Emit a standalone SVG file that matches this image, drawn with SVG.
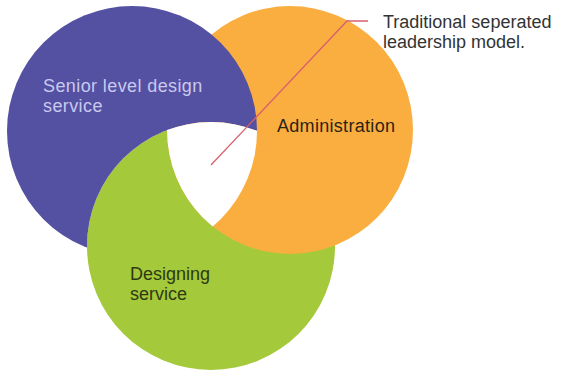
<svg xmlns="http://www.w3.org/2000/svg" width="564" height="374" viewBox="0 0 564 374">
  <style>
    .lbl { font-family: "Liberation Sans", Arial, sans-serif; font-size: 18px; }
    .lead { fill: none; stroke: #d8606e; stroke-width: 1.3; }
  </style>
  <defs>
    <ellipse id="shapeP" cx="132" cy="131" rx="125" ry="125"/>
    <ellipse id="shapeO" cx="290" cy="130" rx="123" ry="124"/>
    <circle id="shapeG" cx="211" cy="246" r="124"/>
    <clipPath id="clipP"><use href="#shapeP"/></clipPath>
    <clipPath id="clipO"><use href="#shapeO"/></clipPath>
    <mask id="noGreen" maskUnits="userSpaceOnUse" x="0" y="0" width="564" height="374">
      <rect x="0" y="0" width="564" height="374" fill="#fff"/>
      <use href="#shapeG" fill="#000"/>
    </mask>
  </defs>
  <rect x="0" y="0" width="564" height="374" fill="#fff"/>

  <g id="designing">
    <use href="#shapeG" fill="#a4c93a"/>
    <text class="lbl" x="130" y="280" fill="#2e3a12">Designing</text>
    <text class="lbl" x="130" y="300" fill="#2e3a12">service</text>
  </g>

  <g id="administration">
    <use href="#shapeO" fill="#fbae40"/>
    <text class="lbl" x="277" y="132" fill="#2b2416" letter-spacing="0.3">Administration</text>
  </g>

  <g id="senior">
    <use href="#shapeP" fill="#5450a2" mask="url(#noGreen)"/>
    <text class="lbl" x="43" y="92" fill="#c9c9ee" letter-spacing="0.4">Senior level design</text>
    <text class="lbl" x="43" y="112" fill="#c9c9ee" letter-spacing="0.4">service</text>
  </g>

  <g id="center">
    <g clip-path="url(#clipO)">
      <use href="#shapeG" fill="#fff" clip-path="url(#clipP)"/>
    </g>
  </g>

  <g id="connectors">
    <polyline class="lead" points="211,165 347,21 368,21"/>
  </g>

  <g id="note">
    <text class="lbl" x="383" y="28" fill="#333">Traditional seperated</text>
    <text class="lbl" x="383" y="48" fill="#333">leadership model.</text>
  </g>
</svg>
